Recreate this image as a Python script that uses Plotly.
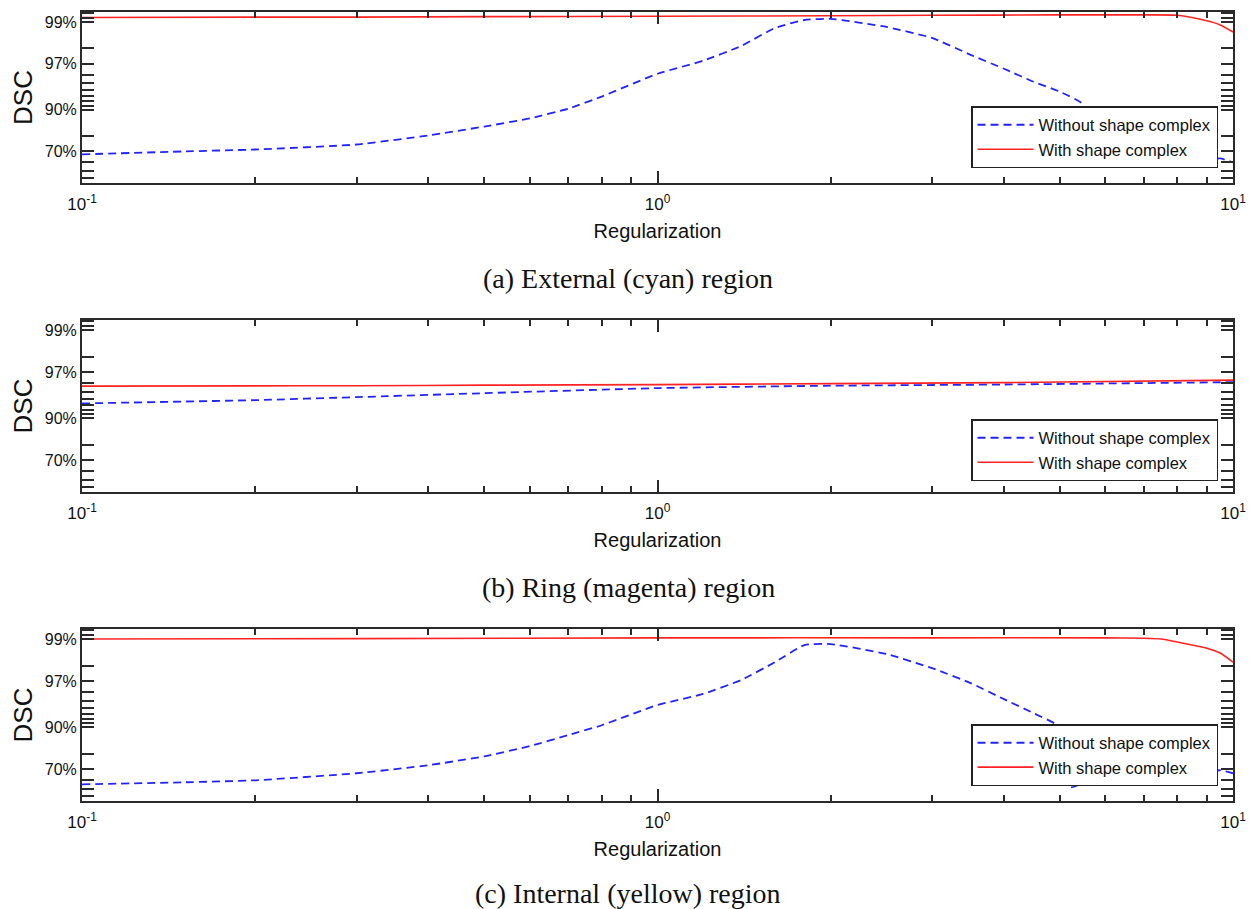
import plotly.graph_objects as go

# ---------------- data (DSC in %) ----------------
# (a) External (cyan) region
reg_a_without = [0.1, 0.15, 0.2, 0.3, 0.4, 0.5, 0.6, 0.7, 0.8, 1.0, 1.2, 1.4, 1.6, 1.8, 2.0,
                 2.5, 3.0, 3.5, 4.0, 4.5, 5.0, 5.5, 5.8, 6.5, 8.0, 9.0, 9.5, 10.0]
dsc_a_without = [67.6, 70.0, 71.5, 75.0, 80.3, 84.4, 87.4, 90.25, 92.9, 96.1, 97.23, 98.13, 98.83, 99.05, 99.08,
                 98.86, 98.48, 97.63, 96.58, 95.19, 93.76, 91.23, 55.5, 57.8, 61.0, 63.0, 63.95, 60.0]
reg_a_with = [0.1, 0.2, 0.3, 0.5, 1.0, 2.0, 3.0, 5.0, 6.0, 7.0, 8.0, 9.0, 9.5, 10.0]
dsc_a_with = [99.11, 99.12, 99.12, 99.13, 99.14, 99.15, 99.16, 99.17, 99.17, 99.17, 99.16, 99.03, 98.92, 98.70]

# (b) Ring (magenta) region
reg_b_without = [0.1, 0.2, 0.3, 0.5, 1.0, 2.0, 4.0, 10.0]
dsc_b_without = [93.2, 93.76, 94.23, 94.8, 95.44, 95.72, 95.85, 96.1]
reg_b_with = [0.1, 0.2, 0.3, 0.5, 1.0, 2.0, 4.0, 10.0]
dsc_b_with = [95.67, 95.70, 95.72, 95.78, 95.84, 95.95, 96.05, 96.3]

# (c) Internal (yellow) region
reg_c_without = [0.1, 0.15, 0.2, 0.3, 0.4, 0.5, 0.6, 0.7, 0.8, 1.0, 1.2, 1.4, 1.6, 1.8, 2.0,
                 2.5, 3.0, 3.5, 4.0, 4.5, 5.0, 5.2, 5.5, 6.5, 8.0, 9.0, 9.5, 10.0]
dsc_c_without = [55.5, 57.8, 60.0, 66.7, 73.0, 78.6, 83.6, 87.7, 90.5, 94.4, 95.8, 97.1, 98.17, 98.83, 98.86,
                 98.52, 97.86, 96.84, 95.19, 93.07, 90.0, 51.9, 56.7, 60.0, 63.95, 67.6, 69.2, 66.7]
reg_c_with = [0.1, 0.3, 1.0, 3.0, 6.0, 7.0, 7.5, 8.0, 9.0, 9.5, 10.0]
dsc_c_with = [99.0, 99.01, 99.03, 99.03, 99.03, 99.02, 99.0, 98.92, 98.73, 98.56, 98.17]

captions = ["(a) External (cyan) region", "(b) Ring (magenta) region", "(c) Internal (yellow) region"]
series_names = ["Without shape complex", "With shape complex"]

x_tickvals = [0.1, 1, 10]
x_ticktext = ["10<sup>-1</sup>", "10<sup>0</sup>", "10<sup>1</sup>"]
x_minor = [0.2, 0.3, 0.4, 0.5, 0.6, 0.7, 0.8, 0.9, 2, 3, 4, 5, 6, 7, 8, 9]
y_err_tickvals = [0.01, 0.03, 0.1, 0.3]       # 1 - DSC
y_ticktext = ["99%", "97%", "90%", "70%"]
y_err_minor = [0.008, 0.009, 0.02, 0.04, 0.05, 0.06, 0.07, 0.08, 0.09, 0.2, 0.4, 0.5, 0.6]

# ---------------- figure ----------------
W, H = 1249, 909
fig = go.Figure()

panels = [
    (reg_a_without, dsc_a_without, reg_a_with, dsc_a_with),
    (reg_b_without, dsc_b_without, reg_b_with, dsc_b_with),
    (reg_c_without, dsc_c_without, reg_c_with, dsc_c_with),
]
boxes = [(12, 183), (320, 492), (629, 801)]
x_left, x_right = 82, 1233
caption_y = [278, 587, 893]
legend_bottom = [168, 481, 786]

BLUE = "rgb(35,35,255)"
RED = "rgb(255,35,35)"
AX = "#2a2a2a"
FONT = "Liberation Sans, Arial, sans-serif"

for i, (rw, dw, rr, dr) in enumerate(panels):
    k = "" if i == 0 else str(i + 1)
    leg = "legend" + k
    fig.add_trace(go.Scatter(
        x=rw, y=[1 - d / 100 for d in dw], mode="lines", name=series_names[0],
        line=dict(color=BLUE, width=1.8, dash="8px,5px", shape="spline", smoothing=0.45),
        xaxis="x" + k, yaxis="y" + k, legend=leg))
    fig.add_trace(go.Scatter(
        x=rr, y=[1 - d / 100 for d in dr], mode="lines", name=series_names[1],
        line=dict(color=RED, width=1.6, shape="spline", smoothing=0.6),
        xaxis="x" + k, yaxis="y" + k, legend=leg))

    top, bot = boxes[i]
    ydom = [1 - bot / H, 1 - top / H]
    xdom = [x_left / W, x_right / W]
    fig.layout["xaxis" + k] = dict(
        domain=xdom, anchor="y" + k, type="log", range=[-1, 1], automargin=False,
        tickmode="array", tickvals=x_tickvals, ticktext=x_ticktext,
        ticks="inside", ticklen=12, tickwidth=1.5, tickcolor=AX, ticklabelstandoff=5,
        minor=dict(tickmode="array", tickvals=x_minor, ticks="inside", ticklen=6,
                   tickwidth=1.5, tickcolor=AX, showgrid=False),
        showline=True, linecolor=AX, linewidth=2, mirror="ticks",
        showgrid=False, zeroline=False,
        tickfont=dict(family=FONT, size=17, color="#111"),
        title=dict(text="Regularization", font=dict(family=FONT, size=20, color="#111"), standoff=11),
    )
    fig.layout["yaxis" + k] = dict(
        domain=ydom, anchor="x" + k, type="log", range=[-0.163, -2.1136], automargin=False,
        tickmode="array", tickvals=y_err_tickvals, ticktext=y_ticktext,
        ticks="inside", ticklen=12, tickwidth=1.5, tickcolor=AX,
        minor=dict(tickmode="array", tickvals=y_err_minor, ticks="inside", ticklen=12,
                   tickwidth=1.5, tickcolor=AX, showgrid=False),
        showline=True, linecolor=AX, linewidth=2, mirror="ticks",
        showgrid=False, zeroline=False,
        tickfont=dict(family=FONT, size=16, color="#111"),
        title=dict(text="DSC", font=dict(family=FONT, size=26, color="#111"), standoff=5),
    )
    fig.layout[leg] = dict(
        x=1218 / W, xanchor="right", y=1 - legend_bottom[i] / H, yanchor="bottom",
        bgcolor="white", bordercolor="#222", borderwidth=1.5,
        font=dict(family=FONT, size=16.5, color="#111"),
        itemwidth=56, tracegroupgap=0,
    )
    fig.add_annotation(
        text=captions[i], xref="paper", yref="paper", x=628 / W, y=1 - caption_y[i] / H,
        xanchor="center", yanchor="middle", showarrow=False,
        font=dict(family="Liberation Serif, Times New Roman, serif", size=28, color="#111"),
    )

fig.update_layout(
    width=W, height=H, margin=dict(l=0, r=0, t=0, b=0, autoexpand=False),
    paper_bgcolor="white", plot_bgcolor="white", showlegend=True,
)

fig.write_html("out.html")
